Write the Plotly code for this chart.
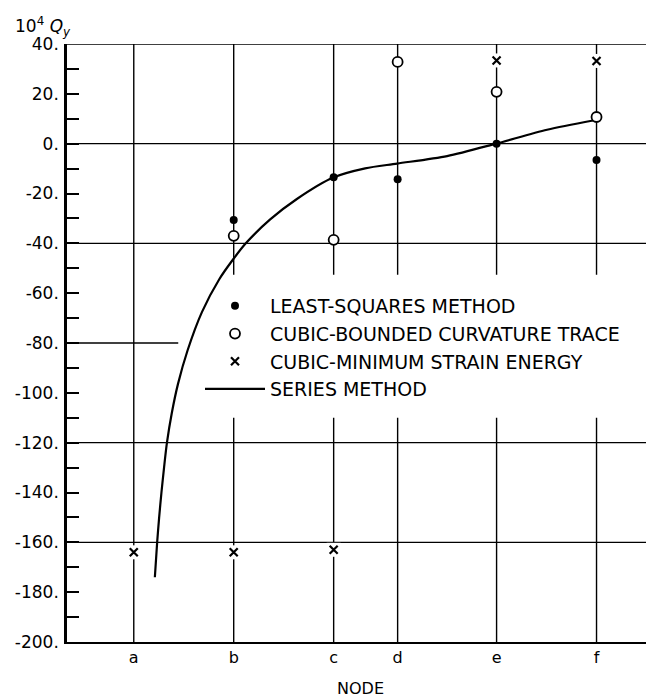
import plotly.graph_objects as go

# ---- data ----
node_labels = ["a", "b", "c", "d", "e", "f"]
node_x = [1.0, 2.0, 3.0, 3.64, 4.63, 5.63]

# least-squares method (filled dots) at nodes b..f
ls_x = [2.0, 3.0, 3.64, 4.63, 5.63]
ls_y = [-30.6, -13.5, -14.3, 0.0, -6.6]

# cubic-bounded curvature trace (open circles) at nodes b..f
cb_x = [2.0, 3.0, 3.64, 4.63, 5.63]
cb_y = [-37.0, -38.6, 32.8, 20.8, 10.7]

# cubic-minimum strain energy (x) at nodes a, b, c, e, f
cm_x = [1.0, 2.0, 3.0, 4.63, 5.63]
cm_y = [-164.0, -164.0, -163.0, 33.4, 33.2]

# series method (curve)
sm_x = [1.211, 1.234, 1.254, 1.277, 1.303, 1.332, 1.381, 1.442, 1.538, 1.683, 1.854,
        1.980, 2.121, 2.365, 2.632, 2.995, 3.315, 3.635, 4.135, 4.625, 5.135, 5.595]
sm_y = [-174.0, -160.0, -150.0, -140.0, -130.0, -120.0, -108.0, -96.5, -83.0, -67.5, -54.5,
        -47.2, -40.0, -30.4, -22.2, -13.6, -9.9, -8.0, -5.0, 0.0, 5.6, 9.3]

y_tick_vals = list(range(-200, 41, 10))
y_tick_text = [(f"{v}." if v % 20 == 0 else "") for v in y_tick_vals]
grid_y = [40, 0, -40, -80, -120, -160]

# ---- layout constants ----
OFF = 8  # page body margin offset
W, H = 654 - OFF, 698 - OFF
ML, MR, MT = 67 - OFF, 0, 44 - OFF
MB = H - (642 - OFF)
PW, PH = W - ML - MR, H - MT - MB
FONT = "DejaVu Sans"

def px_x(p):
    return (p - OFF - ML) / PW

def px_y(p):
    return 1 - (p - OFF - MT) / PH

fig = go.Figure()

fig.add_trace(go.Scatter(
    x=sm_x, y=sm_y, mode="lines", name="SERIES METHOD",
    line=dict(color="black", width=2.2, shape="spline", smoothing=0.8),
    legendrank=4,
))
# white gaps behind the x marks
fig.add_trace(go.Scatter(
    x=cm_x, y=cm_y, mode="markers", showlegend=False, hoverinfo="skip",
    marker=dict(symbol="square", size=14, color="white", line=dict(width=0)),
))
fig.add_trace(go.Scatter(
    x=cm_x, y=cm_y, mode="markers", name="CUBIC-MINIMUM STRAIN ENERGY",
    marker=dict(symbol="x-thin", size=8, color="black",
                line=dict(color="black", width=2.2)),
    legendrank=3,
))
fig.add_trace(go.Scatter(
    x=ls_x, y=ls_y, mode="markers", name="LEAST-SQUARES METHOD",
    marker=dict(symbol="circle", size=8, color="black", line=dict(width=0)),
    legendrank=1,
))
fig.add_trace(go.Scatter(
    x=cb_x, y=cb_y, mode="markers", name="CUBIC-BOUNDED CURVATURE TRACE",
    marker=dict(symbol="circle", size=10, color="white",
                line=dict(color="black", width=1.8)),
    legendrank=2,
))

shapes = []
for v in grid_y:
    shapes.append(dict(type="line", xref="paper", yref="y", x0=0, x1=1, y0=v, y1=v,
                       line=dict(color="black", width=1.4), layer="between"))
for v in node_x:
    shapes.append(dict(type="line", xref="x", yref="paper", x0=v, x1=v, y0=0, y1=1,
                       line=dict(color="black", width=1.4), layer="between"))
# white panel behind the legend
shapes.append(dict(type="rect", xref="x", yref="y", x0=1.445, x1=6.145, y0=-110, y1=-52.6,
                   fillcolor="white", line=dict(width=0), layer="between"))

fig.update_layout(
    width=W, height=H,
    margin=dict(l=ML, r=MR, t=MT, b=MB, pad=0),
    paper_bgcolor="white", plot_bgcolor="white",
    font=dict(family=FONT, color="black", size=16),
    shapes=shapes,
    showlegend=True,
    legend=dict(
        x=px_x(200), y=px_y(287), xanchor="left", yanchor="top",
        bgcolor="rgba(0,0,0,0)", borderwidth=0,
        font=dict(family=FONT, size=19, color="black"),
        tracegroupgap=0, itemwidth=60,
    ),
    xaxis=dict(
        range=[0.332, 6.205], tickmode="array", tickvals=node_x, ticktext=node_labels,
        showgrid=False, zeroline=False, showline=True, linecolor="black", linewidth=2.2,
        ticks="", tickfont=dict(family=FONT, size=16),
        title=dict(text="NODE", font=dict(family=FONT, size=16), standoff=18),
    ),
    yaxis=dict(
        range=[-200, 40], tickmode="array", tickvals=y_tick_vals, ticktext=y_tick_text,
        showgrid=False, zeroline=False, showline=True, linecolor="black", linewidth=2.5,
        ticks="inside", ticklen=12, tickwidth=1.5, tickcolor="black",
        tickfont=dict(family=FONT, size=17), ticklabelstandoff=2,
    ),
    annotations=[dict(
        text="10<sup>4</sup> <i>Q<sub>y</sub></i>", xref="paper", yref="paper",
        x=px_x(13), y=px_y(12), xanchor="left", yanchor="top", showarrow=False,
        font=dict(family=FONT, size=17, color="black"),
    )],
)

fig.write_html("out.html")
